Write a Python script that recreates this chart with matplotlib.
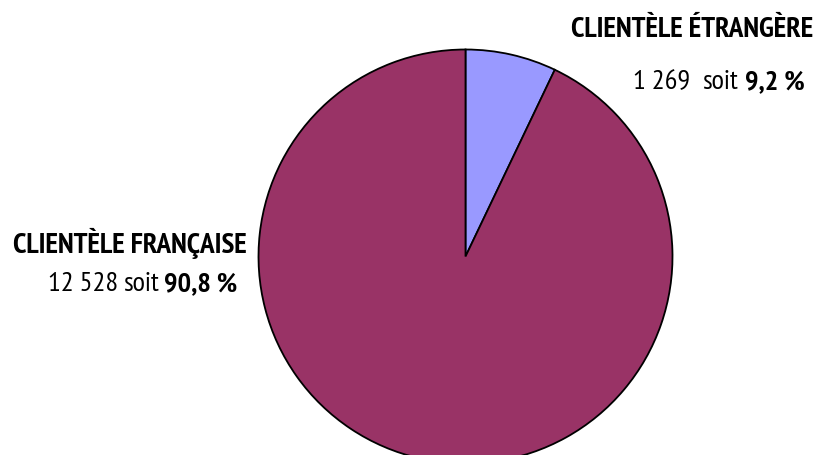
import matplotlib.pyplot as plt
from matplotlib import font_manager

# data
titles = ['CLIENTÈLE ÉTRANGÈRE', 'CLIENTÈLE FRANÇAISE']
counts = ['1 269', '12 528']
shares = ['9,2 %', '90,8 %']
# wedge sizes as they are drawn in the reference picture (%)
drawn_shares = [7.1, 92.9]
colors = ['#9999FF', '#993366']

names = {f.name for f in font_manager.fontManager.ttflist}
candidates = ['PT Sans Narrow', 'Fira Sans Extra Condensed', 'Roboto Condensed', 'Liberation Sans Narrow']
font = [n for n in candidates if n in names][:1] + ['DejaVu Sans']

W, H = 817, 456
fig = plt.figure(figsize=(W / 100, H / 100), dpi=100)

# pie placed in pixel terms
cx, cy, r = 465.5, 257.5, 207
ax = fig.add_axes([(cx - r) / W, (H - cy - r) / H, 2 * r / W, 2 * r / H])
wedges, _ = ax.pie(drawn_shares, colors=colors, startangle=90, counterclock=False,
                   wedgeprops=dict(edgecolor='black', linewidth=1.3))
for w in wedges:
    w.set_clip_on(False)
ax.set_xlim(-1, 1)
ax.set_ylim(-1, 1)
ax.axis('off')

renderer = fig.canvas.get_renderer()


def text_line(parts, right, base, size):
    # parts: list of (text, weight, gap after in px), laid out right to left
    x = right
    for txt, weight, gap in reversed(parts):
        x -= gap
        t = fig.text(x / W, 1 - base / H, txt, ha='right', va='baseline',
                     fontsize=size, fontweight=weight, family=font)
        x -= t.get_window_extent(renderer).width


title_size = 21
value_size = 20.5

text_line([(titles[0], 'bold', 0)], 813, 37, title_size)
text_line([(counts[0], 'normal', 12), ('soit', 'normal', 7), (shares[0], 'bold', 0)], 805, 89, value_size)

text_line([(titles[1], 'bold', 0)], 247, 253, title_size)
text_line([(counts[1], 'normal', 5), ('soit', 'normal', 5), (shares[1], 'bold', 0)], 237, 291, value_size)

fig.savefig('out.png', dpi=100)
